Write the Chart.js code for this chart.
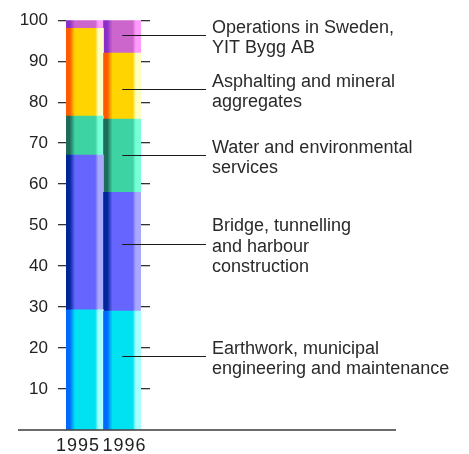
<!DOCTYPE html>
<html>
<head>
<meta charset="utf-8">
<script src="https://cdn.jsdelivr.net/npm/chart.js@4/dist/chart.umd.min.js"></script>
<style>
  html, body { margin: 0; padding: 0; background: #fff; }
  #wrap { width: 469px; height: 454px; }
</style>
</head>
<body>
<div id="wrap"><canvas id="c" width="469" height="454"></canvas></div>
<script>
// Years on the x axis
const years = ['1995', '1996'];

// Share of net sales by business area, % (stacked bottom to top)
const earthwork = [29.3, 29.0];
const bridge    = [37.8, 29.0];
const water     = [9.5, 17.9];
const asphalt   = [21.4, 16.1];
const sweden    = [2.0, 8.0];

// Callout text, one entry per stacked series (bottom to top)
const calloutText = [
  ['Earthwork, municipal', 'engineering and maintenance'],
  ['Bridge, tunnelling', 'and harbour', 'construction'],
  ['Water and environmental', 'services'],
  ['Asphalting and mineral', 'aggregates'],
  ['Operations in Sweden,', 'YIT Bygg AB']
];

// Y-axis tick values
const yTicks = [0, 10, 20, 30, 40, 50, 60, 70, 80, 90, 100];

// Shaded colour ramps for each series: [dark edge, body, highlight]
const ramps = [
  ['#0068ff', '#00e2f2', '#a8ffff'],
  ['#00249a', '#6666ff', '#a8a8ff'],
  ['#1f6a5a', '#3ed3a2', '#78ffd8'],
  ['#ff5a00', '#ffd400', '#ffffc4'],
  ['#8a2ec8', '#cc66cc', '#ff9aff']
];

const FONT = '"Liberation Sans", Arial, Helvetica, sans-serif';

function barFill(ramp) {
  return function (ctx) {
    const chart = ctx.chart;
    const area = chart.chartArea;
    const xs = chart.scales.x;
    if (!area || !xs) return ramp[1];
    const w = (area.right - area.left) / years.length;
    const c = xs.getPixelForValue(ctx.dataIndex);
    const g = chart.ctx.createLinearGradient(c - w / 2, 0, c + w / 2, 0);
    g.addColorStop(0.0, ramp[0]);
    g.addColorStop(0.1, ramp[0]);
    g.addColorStop(0.24, ramp[1]);
    g.addColorStop(0.78, ramp[1]);
    g.addColorStop(0.86, ramp[2]);
    g.addColorStop(1.0, ramp[2]);
    return g;
  };
}

const series = [earthwork, bridge, water, asphalt, sweden];
const datasets = series.map((vals, i) => ({
  label: calloutText[i].join(' '),
  data: vals,
  backgroundColor: barFill(ramps[i]),
  borderWidth: 0,
  barPercentage: 1.0,
  categoryPercentage: 1.0,
  stack: 's'
}));

// Baseline, year labels, leader lines and callout labels
const calloutPlugin = {
  id: 'callouts',
  afterDatasetsDraw(chart, args, opts) {
    const ctx = chart.ctx;
    const y = chart.scales.y;
    const xs = chart.scales.x;
    const area = chart.chartArea;
    const cx = xs.getPixelForValue(years.length - 1);
    const y0 = y.getPixelForValue(0);

    ctx.save();
    // baseline
    ctx.strokeStyle = '#3a3a3a';
    ctx.lineWidth = 1.3;
    ctx.beginPath();
    ctx.moveTo(18, y0);
    ctx.lineTo(396, y0);
    ctx.stroke();

    // year labels, set as a pair meeting near the join of the two columns
    const join = (xs.getPixelForValue(0) + xs.getPixelForValue(1)) / 2;
    ctx.font = '18px ' + FONT;
    ctx.fillStyle = '#222';
    ctx.textBaseline = 'middle';
    ctx.letterSpacing = '1px';
    ctx.textAlign = 'right';
    ctx.fillText(years[0], join - 3.5, y0 + 16);
    ctx.textAlign = 'left';
    ctx.fillText(years[1], join - 1, y0 + 16);
    ctx.letterSpacing = '0px';

    // leader lines into the last column, with their labels
    ctx.font = '18px ' + FONT;
    ctx.fillStyle = '#2a2a2a';
    ctx.textAlign = 'left';
    opts.anchors.forEach((a, i) => {
      const py = Math.round(y.getPixelForValue(a)) + 0.5;
      ctx.strokeStyle = '#1a1a1a';
      ctx.lineWidth = 1;
      ctx.beginPath();
      ctx.moveTo(cx, py);
      ctx.lineTo(area.right + 65, py);
      ctx.stroke();

      const lines = calloutText[i];
      const lh = 20.5;
      const top = py + 2.5 - (lines.length - 1) * lh / 2;
      lines.forEach((t, k) => ctx.fillText(t, area.right + 71, top + k * lh));
    });
    ctx.restore();
  }
};

new Chart(document.getElementById('c'), {
  type: 'bar',
  data: { labels: years, datasets },
  plugins: [calloutPlugin],
  options: {
    responsive: false,
    animation: false,
    devicePixelRatio: 1,
    layout: { padding: { top: 20, left: 0, right: 0, bottom: 0 } },
    plugins: {
      legend: { display: false },
      tooltip: { enabled: false },
      // value on the y scale where each callout line meets its column
      callouts: { anchors: [18.1, 45.4, 67.0, 83.3, 96.5] }
    },
    scales: {
      x: {
        stacked: true,
        grid: { display: false },
        border: { display: false },
        ticks: { display: false },
        afterFit(s) { s.height = 24; }
      },
      y: {
        stacked: true,
        min: 0,
        max: 100,
        afterBuildTicks(s) { s.ticks = yTicks.map(v => ({ value: v })); },
        ticks: {
          color: '#222',
          font: { family: FONT, size: 17 },
          padding: 10,
          callback: v => (v === 0 ? '' : String(v))
        },
        grid: {
          drawOnChartArea: false,
          tickLength: 8,
          lineWidth: 1.3,
          color: c => (c.tick && c.tick.value === 0 ? 'rgba(0,0,0,0)' : '#333')
        },
        border: { display: false },
        afterFit(s) { s.width = 66; }
      },
      y2: {
        position: 'right',
        min: 0,
        max: 100,
        afterBuildTicks(s) { s.ticks = yTicks.map(v => ({ value: v })); },
        ticks: { display: false },
        grid: {
          drawOnChartArea: false,
          tickLength: 9,
          lineWidth: 1.3,
          color: c => (c.tick && c.tick.value === 0 ? 'rgba(0,0,0,0)' : '#333')
        },
        border: { display: false },
        afterFit(s) { s.width = 328; }
      }
    }
  }
});
</script>
</body>
</html>
